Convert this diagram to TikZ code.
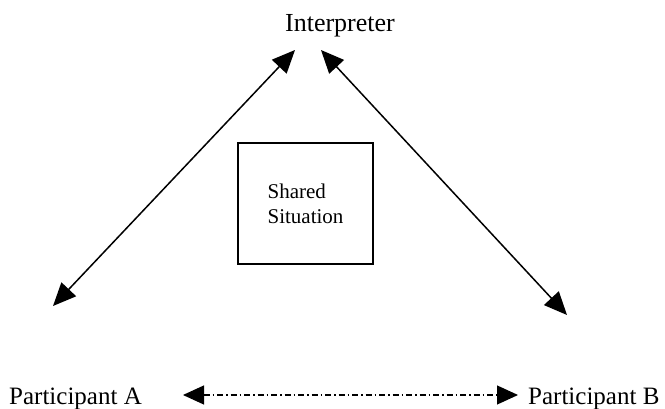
\documentclass[tikz,border=0pt]{standalone}
\usepackage{fontspec}
\setmainfont{Liberation Serif}
\usetikzlibrary{arrows.meta}
\begin{document}
\begin{tikzpicture}[x=1pt,y=-1pt,
  lbl/.style={inner sep=0pt, font=\fontsize{25}{30}\selectfont},
  tipA/.tip={Triangle[length=23pt,width=20pt]},
  tipB/.tip={Triangle[length=21pt,width=19pt]},
  link/.style={line width=1.5pt, tipA-tipA},
  dashlink/.style={line width=1.1pt, dash pattern=on 6pt off 3pt on 1.5pt off 3pt, tipB-tipB},
  boxnode/.style={draw, line width=1.4pt, minimum width=135pt, minimum height=121pt,
    align=left, inner sep=0pt, font=\fontsize{21}{25}\selectfont}]
\useasboundingbox (0,0) rectangle (665,409);

\node[lbl, anchor=base, font=\fontsize{26}{30}\selectfont] (interp) at (340,32) {Interpreter};
\node[lbl, anchor=base west] (pa) at (9,404) {Participant A};
\node[lbl, anchor=base west] (pb) at (528,404) {Participant B};
\node[boxnode] (shared) at (305.5,203.5) {Shared\\Situation};

\coordinate (iL) at (295,50);
\coordinate (iR) at (321,50);
\coordinate (aT) at (53,306);
\coordinate (bT) at (567,315);
\coordinate (aR) at (183,395);
\coordinate (bL) at (518,395);

\draw[link] (aT) -- (iL);
\draw[link] (iR) -- (bT);
\draw[dashlink] (aR) -- (bL);
\end{tikzpicture}
\end{document}
